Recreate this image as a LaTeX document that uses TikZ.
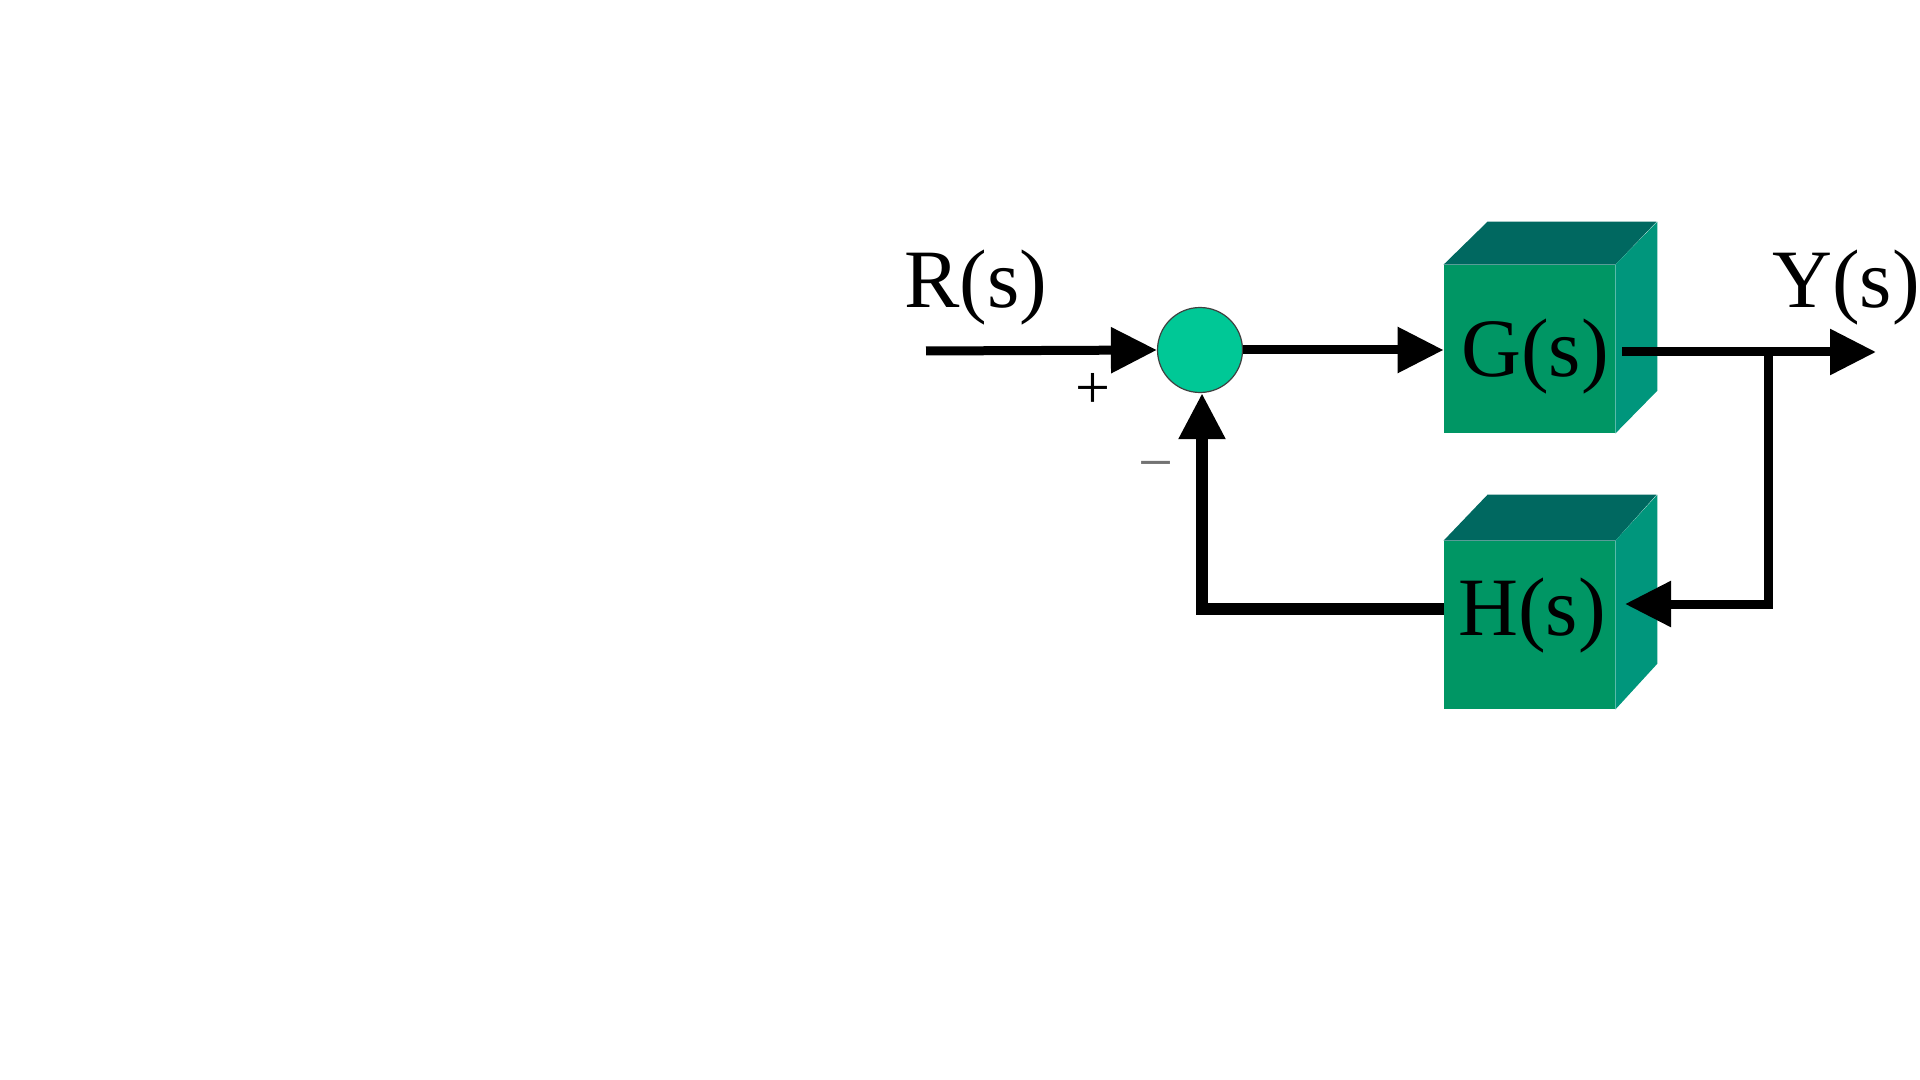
\documentclass[tikz,border=0pt]{standalone}
\usepackage{fontspec}
\setmainfont{Liberation Serif}
\usetikzlibrary{arrows.meta}
\definecolor{frontc}{RGB}{0,150,100}
\definecolor{topc}{RGB}{0,104,96}
\definecolor{sidec}{RGB}{0,150,124}
\definecolor{sumc}{RGB}{0,200,150}
\tikzset{
  px/.style={x=0.5pt,y=-0.5pt},
  frontface/.style={rectangle,fill=frontc,draw=none,minimum width=85.5pt,minimum height=84pt,inner sep=0pt},
  sumnode/.style={circle,fill=sumc,draw=black!75,line width=0.6pt,minimum size=42.5pt,inner sep=0pt},
  lbl/.style={inner sep=0pt,font=\fontsize{41.5}{50}\selectfont},
  sign/.style={inner sep=0pt,font=\fontsize{31}{36}\selectfont},
  tip/.style={-{Triangle[length=23pt,width=22pt]}},
  mainline/.style={line width=4.5pt,draw=black,line join=miter},
  fbline/.style={line width=5.6pt,draw=black,line join=miter},
}
\begin{document}
\begin{tikzpicture}[px]
\useasboundingbox[fill=white] (0,0) rectangle (1920,1080);

% summing junction
\node[sumnode] (sum) at (1200,350) {};

% G block
\node[frontface] (G) at (1529.5,349) {};
\fill[topc] (G.north west) -- ++(44,-43) -- ++(169,0) -- (G.north east) -- cycle;
\fill[sidec] (G.north east) -- ++(42,-43) -- ++(0,169) -- (G.south east) -- cycle;
\node[lbl,anchor=base west] (Gt) at (1461,377) {G(s)};

% H block
\node[frontface] (H) at (1529.5,625) {};
\fill[topc] (H.north west) -- ++(44,-46) -- ++(169,0) -- (H.north east) -- cycle;
\fill[sidec] (H.north east) -- ++(42,-46) -- ++(0,169) -- (H.south east) -- cycle;
\node[lbl,anchor=base west] (Ht) at (1458,635) {H(s)};

% labels
\node[lbl,anchor=base west] (Rt) at (904,308) {R(s)};
\node[lbl,anchor=base west] (Yt) at (1772,307) {Y(s)};
\node[sign] (plus) at (1093,391) {+};
\node[sign,text=black!55] (minus) at (1156,472) {−};

% coordinates
\coordinate (rin) at (926,351);
\coordinate (gout) at (1622,352);
\coordinate (br) at (1768,352);
\coordinate (yout) at (1876,352);
\coordinate (hin) at (1625,604);
\coordinate (hout) at (1444,609);

% connectors
\draw[mainline,tip] (rin) -- (sum.west);
\draw[mainline,tip] (sum.east) -- (sum.east -| G.west);
\draw[mainline,tip] (gout) -- (yout);
\draw[mainline,tip] (br) |- (hin);
\draw[fbline,tip] (hout) -| ([xshift=1pt]sum.south);
\end{tikzpicture}
\end{document}
